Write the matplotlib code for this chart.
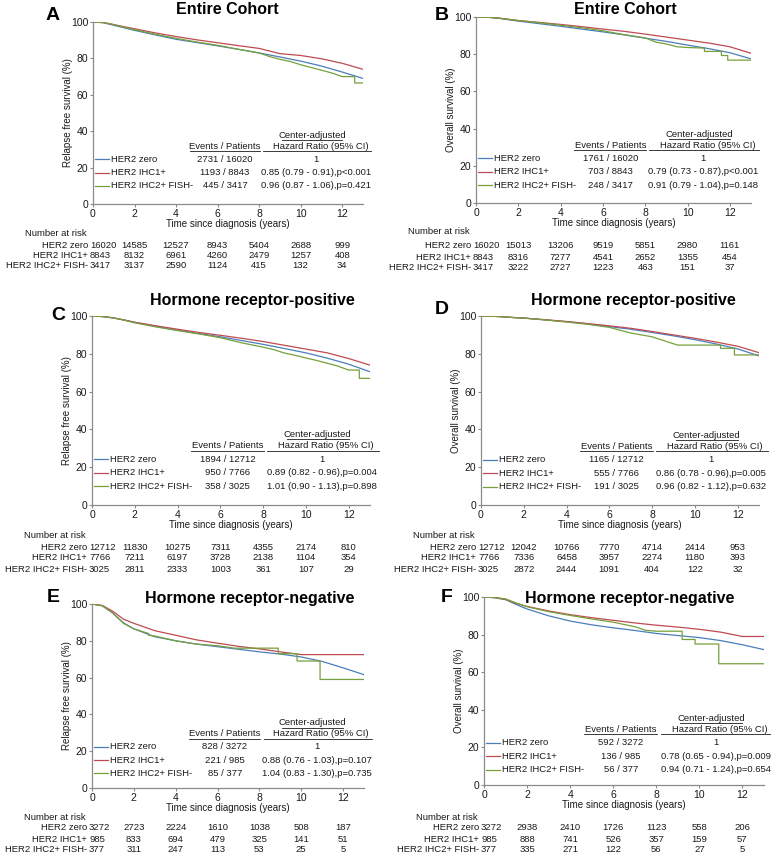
import matplotlib
matplotlib.use("Agg")
import matplotlib.pyplot as plt
from matplotlib.transforms import blended_transform_factory

plt.rcParams['font.family'] = ['Liberation Sans', 'DejaVu Sans']

# ---- data ----
groups = ["HER2 zero", "HER2 IHC1+", "HER2 IHC2+ FISH-"]
colors = ["#4a7ebb", "#be4b52", "#76a03c"]
risk_times = [0, 2, 4, 6, 8, 10, 12]

T = [0, 0.5, 1, 1.5, 2, 3, 4, 5, 6, 7, 8, 9, 10, 11, 12, 13]

# A: relapse free survival, entire cohort
a_zero = [100, 99.6, 98.2, 96.8, 95.4, 92.9, 90.5, 88.7, 86.9, 85.0, 83.0, 80.8, 78.5, 75.8, 72.5, 69.0]
a_ihc1 = [100, 99.7, 98.6, 97.4, 96.3, 94.0, 92.0, 90.2, 88.6, 87.0, 85.5, 82.6, 81.6, 79.8, 77.3, 74.0]
a_ihc2_t = [0, 0.5, 1, 1.5, 2, 3, 4, 5, 6, 7, 8, 8.5, 9, 9.5, 10, 10.5, 11, 11.5, 12, 12.6, 12.6, 13]
a_ihc2 = [100, 99.7, 98.5, 97.1, 95.8, 93.3, 91.0, 89.0, 87.2, 85.0, 83.0, 81.0, 79.5, 78.3, 76.5, 75.0, 73.5, 72.0, 70.0, 70.0, 66.5, 66.5]

# B: overall survival, entire cohort
b_zero = [100, 99.9, 99.4, 98.6, 97.8, 96.4, 95.0, 93.5, 92.0, 90.4, 88.6, 86.9, 84.9, 83.0, 80.8, 77.5]
b_ihc1 = [100, 99.9, 99.5, 98.8, 98.1, 97.1, 96.0, 94.8, 93.5, 92.3, 90.8, 89.2, 87.6, 86.0, 84.0, 80.5]
b_ihc2_t = [0, 0.5, 1, 1.5, 2, 3, 4, 5, 6, 7, 8, 8.5, 9, 9.5, 10, 10.8, 10.8, 11.6, 11.6, 11.9, 11.9, 13]
b_ihc2 = [100, 99.9, 99.5, 98.8, 98.1, 96.9, 95.6, 94.2, 92.6, 90.5, 88.8, 86.5, 85.5, 84.0, 83.6, 83.3, 81.5, 81.5, 79.3, 79.3, 76.8, 76.8]

# C: relapse free survival, HR-positive
c_zero = [100, 99.7, 99.0, 97.9, 96.6, 94.5, 92.5, 90.7, 89.0, 87.0, 85.0, 82.8, 80.5, 77.7, 74.5, 70.5]
c_ihc1 = [100, 99.7, 99.0, 97.9, 96.7, 94.8, 93.0, 91.3, 89.8, 88.2, 86.5, 84.5, 82.5, 80.5, 77.5, 74.0]
c_ihc2_t = [0, 0.5, 1, 1.5, 2, 3, 4, 5, 6, 7, 8, 8.5, 9, 9.5, 10, 10.5, 11, 11.5, 12, 12.5, 12.5, 13]
c_ihc2 = [100, 99.7, 99.0, 97.8, 96.4, 94.2, 92.3, 90.5, 88.5, 85.8, 83.5, 82.2, 80.4, 79.2, 77.8, 76.5, 75.0, 73.5, 71.4, 71.4, 67.0, 67.0]

# D: overall survival, HR-positive
d_zero = [100, 99.9, 99.6, 99.2, 98.9, 98.0, 97.0, 95.8, 94.4, 93.0, 91.3, 89.5, 87.5, 85.2, 82.6, 78.9]
d_ihc1 = [100, 99.9, 99.6, 99.2, 98.9, 98.0, 97.1, 96.0, 94.8, 93.5, 91.8, 90.0, 88.2, 86.2, 84.0, 80.6]
d_ihc2_t = [0, 0.5, 1, 1.5, 2, 3, 4, 5, 6, 7, 8, 8.7, 9.2, 11.2, 11.2, 11.85, 11.85, 13]
d_ihc2 = [100, 99.9, 99.6, 99.2, 98.9, 97.9, 96.8, 95.6, 94.0, 91.0, 89.0, 86.4, 84.6, 84.6, 82.9, 82.9, 79.4, 79.4]

# E: relapse free survival, HR-negative
e_zero = [100, 99.0, 95.0, 89.8, 86.5, 82.2, 80.0, 78.2, 76.8, 75.4, 74.0, 72.8, 71.2, 68.8, 65.3, 61.6]
e_ihc1 = [100, 99.2, 96.0, 91.8, 89.5, 85.5, 83.0, 80.5, 78.7, 77.0, 75.6, 74.0, 72.5, 72.5, 72.5, 72.5]
e_ihc2_t = [0, 0.5, 1, 1.5, 2, 2.7, 2.7, 3, 4, 5, 6, 6.8, 8.9, 8.9, 9.8, 9.8, 10.9, 10.9, 13]
e_ihc2 = [100, 99.0, 95.0, 89.5, 86.5, 84.0, 83.0, 82.6, 80.0, 78.2, 77.3, 76.0, 76.0, 73.0, 73.0, 69.0, 69.0, 59.0, 59.0]

# F: overall survival, HR-negative
f_zero = [100, 99.6, 98.6, 96.0, 93.6, 90.0, 87.2, 85.2, 83.6, 82.2, 80.6, 79.5, 78.4, 76.8, 74.6, 72.0]
f_ihc1 = [100, 99.7, 98.7, 96.6, 95.0, 92.6, 90.6, 89.0, 87.6, 86.2, 85.0, 84.0, 82.8, 81.3, 79.0, 79.0]
f_ihc2_t = [0, 0.5, 1, 1.5, 2, 3, 4, 5, 6, 7, 7.5, 8, 9.2, 9.2, 9.8, 9.8, 10.9, 10.9, 13]
f_ihc2 = [100, 99.7, 99.0, 96.8, 94.8, 92.2, 90.2, 88.3, 86.6, 84.2, 82.3, 81.8, 81.8, 77.4, 77.4, 75.0, 75.0, 64.5, 64.5]

# events / patients and hazard ratios
a_events = ["2731 / 16020", "1193 / 8843", "445 / 3417"]
a_hr = ["1", "0.85 (0.79 - 0.91),p<0.001", "0.96 (0.87 - 1.06),p=0.421"]
b_events = ["1761 / 16020", "703 / 8843", "248 / 3417"]
b_hr = ["1", "0.79 (0.73 - 0.87),p<0.001", "0.91 (0.79 - 1.04),p=0.148"]
c_events = ["1894 / 12712", "950 / 7766", "358 / 3025"]
c_hr = ["1", "0.89 (0.82 - 0.96),p=0.004", "1.01 (0.90 - 1.13),p=0.898"]
d_events = ["1165 / 12712", "555 / 7766", "191 / 3025"]
d_hr = ["1", "0.86 (0.78 - 0.96),p=0.005", "0.96 (0.82 - 1.12),p=0.632"]
e_events = ["828 / 3272", "221 / 985", "85 / 377"]
e_hr = ["1", "0.88 (0.76 - 1.03),p=0.107", "1.04 (0.83 - 1.30),p=0.735"]
f_events = ["592 / 3272", "136 / 985", "56 / 377"]
f_hr = ["1", "0.78 (0.65 - 0.94),p=0.009", "0.94 (0.71 - 1.24),p=0.654"]

# number at risk
a_risk = [[16020, 14585, 12527, 8943, 5404, 2688, 999],
          [8843, 8132, 6961, 4260, 2479, 1257, 408],
          [3417, 3137, 2590, 1124, 415, 132, 34]]
b_risk = [[16020, 15013, 13206, 9519, 5851, 2980, 1161],
          [8843, 8316, 7277, 4541, 2652, 1355, 454],
          [3417, 3222, 2727, 1223, 463, 151, 37]]
c_risk = [[12712, 11830, 10275, 7311, 4355, 2174, 810],
          [7766, 7211, 6197, 3728, 2138, 1104, 354],
          [3025, 2811, 2333, 1003, 361, 107, 29]]
d_risk = [[12712, 12042, 10766, 7770, 4714, 2414, 953],
          [7766, 7336, 6458, 3957, 2274, 1180, 393],
          [3025, 2872, 2444, 1091, 404, 122, 32]]
e_risk = [[3272, 2723, 2224, 1610, 1038, 508, 187],
          [985, 833, 694, 479, 325, 141, 51],
          [377, 311, 247, 113, 53, 25, 5]]
f_risk = [[3272, 2938, 2410, 1726, 1123, 558, 206],
          [985, 888, 741, 526, 357, 159, 57],
          [377, 335, 271, 122, 56, 27, 5]]

W, H = 771, 857
fig = plt.figure(figsize=(W / 100, H / 100), dpi=100)
TXT = "#1a1a1a"
AX = "#8a8a8a"


def fx(x):
    return x / W


def fy(y):
    return 1 - y / H


def panel(letter, title, ylabel, box, title_xy, letter_xy, curves, events, hr,
          risk, leg_y0, risk_y):
    left, top, right, bottom = box
    ax = fig.add_axes([fx(left), fy(bottom), fx(right - left), (bottom - top) / H])
    for (t, s), col in zip(curves, colors):
        ax.plot(t, s, color=col, lw=0.9)
    ax.set_xlim(0, 13)
    ax.set_ylim(0, 100)
    ax.set_xticks([0, 2, 4, 6, 8, 10, 12])
    ax.set_yticks([0, 20, 40, 60, 80, 100])
    for sp in ["top", "right"]:
        ax.spines[sp].set_visible(False)
    for sp in ["left", "bottom"]:
        ax.spines[sp].set_color(AX)
        ax.spines[sp].set_linewidth(0.9)
    ax.tick_params(length=2.5, width=0.8, color=AX, labelsize=7.5,
                   labelcolor=TXT, pad=0.8)

    fig.text(fx(title_xy[0]), fy(title_xy[1]), title, fontsize=11.5,
             fontweight="bold", ha="center", va="center", color="black")
    fig.text(fx(letter_xy[0]), fy(letter_xy[1]), letter, fontsize=14,
             fontweight="bold", ha="center", va="center", color="black")
    fig.text(fx(left - 25), fy((top + bottom) / 2), ylabel, rotation=90,
             fontsize=7, ha="center", va="center", color=TXT)
    fig.text(fx((left + right) / 2), fy(bottom + 20), "Time since diagnosis (years)",
             fontsize=7, ha="center", va="center", color=TXT)

    # legend table inside the plot
    dy = 7.2
    for i, (g, col) in enumerate(zip(groups, colors)):
        y = leg_y0 - i * dy
        ax.plot([0.1, 0.75], [y, y], color=col, lw=0.9, clip_on=False)
        ax.text(0.85, y, g, fontsize=6.8, va="center", ha="left", color=TXT)
        ax.text(6.35, y, events[i], fontsize=6.8, va="center", ha="center", color=TXT)
        ax.text(10.75, y, hr[i], fontsize=6.8, va="center", ha="center", color=TXT,
                clip_on=False)
    yh = leg_y0 + 7.0
    ax.text(6.35, yh, "Events / Patients", fontsize=6.8, ha="center", va="center", color=TXT)
    ax.text(10.95, yh, "Hazard Ratio (95% CI)", fontsize=6.8, ha="center", va="center", color=TXT)
    ax.text(10.55, yh + 6.0, "Center-adjusted", fontsize=6.8, ha="center", va="center", color=TXT)
    ax.plot([4.65, 8.05], [yh - 2.6, yh - 2.6], color=TXT, lw=0.6, clip_on=False)
    ax.plot([8.2, 13.4], [yh - 2.6, yh - 2.6], color=TXT, lw=0.6, clip_on=False)
    ax.plot([9.1, 12.0], [yh + 3.4, yh + 3.4], color=TXT, lw=0.6, clip_on=False)

    # number at risk table
    tr = blended_transform_factory(ax.transData, fig.transFigure)
    fig.text(fx(left - 68), fy(risk_y[0]), "Number at risk", fontsize=6.8,
             ha="left", va="center", color=TXT)
    for i, g in enumerate(groups):
        yy = fy(risk_y[i + 1])
        fig.text(fx(left - 5), yy, g, fontsize=6.8, ha="right", va="center", color=TXT)
        for j, (t, n) in enumerate(zip(risk_times, risk[i])):
            if j == 0:
                fig.text(fx(left - 3), yy, str(n), fontsize=6.8, ha="left",
                         va="center", color=TXT)
            else:
                ax.text(t, yy, str(n), fontsize=6.8, ha="center", va="center",
                        color=TXT, transform=tr)
    return ax


panel("A", "Entire Cohort", "Relapse free survival (%)", (93, 22, 363, 204),
      (227, 9), (53, 15),
      [(T, a_zero), (T, a_ihc1), (a_ihc2_t, a_ihc2)], a_events, a_hr, a_risk,
      24.5, (233, 246, 256, 266))
panel("B", "Entire Cohort", "Overall survival (%)", (476, 17, 751, 203),
      (625, 9), (442, 15),
      [(T, b_zero), (T, b_ihc1), (b_ihc2_t, b_ihc2)], b_events, b_hr, b_risk,
      24.0, (232, 246, 257, 267))
panel("C", "Hormone receptor-positive", "Relapse free survival (%)", (92, 316, 370, 505),
      (252, 300), (58, 316),
      [(T, c_zero), (T, c_ihc1), (c_ihc2_t, c_ihc2)], c_events, c_hr, c_risk,
      24.3, (536, 547, 558, 569))
panel("D", "Hormone receptor-positive", "Overall survival (%)", (481, 316, 759, 505),
      (633, 300), (442, 310),
      [(T, d_zero), (T, d_ihc1), (d_ihc2_t, d_ihc2)], d_events, d_hr, d_risk,
      24.0, (536, 547, 558, 569))
panel("E", "Hormone receptor-negative", "Relapse free survival (%)", (92, 604, 364, 788),
      (250, 598), (53, 598),
      [(T, e_zero), (T, e_ihc1), (e_ihc2_t, e_ihc2)], e_events, e_hr, e_risk,
      22.4, (817, 828, 839, 850))
panel("F", "Hormone receptor-negative", "Overall survival (%)", (484, 597, 764, 785),
      (630, 598), (447, 597),
      [(T, f_zero), (T, f_ihc1), (f_ihc2_t, f_ihc2)], f_events, f_hr, f_risk,
      22.5, (818, 828, 840, 850))

fig.savefig("out.png", dpi=100)
